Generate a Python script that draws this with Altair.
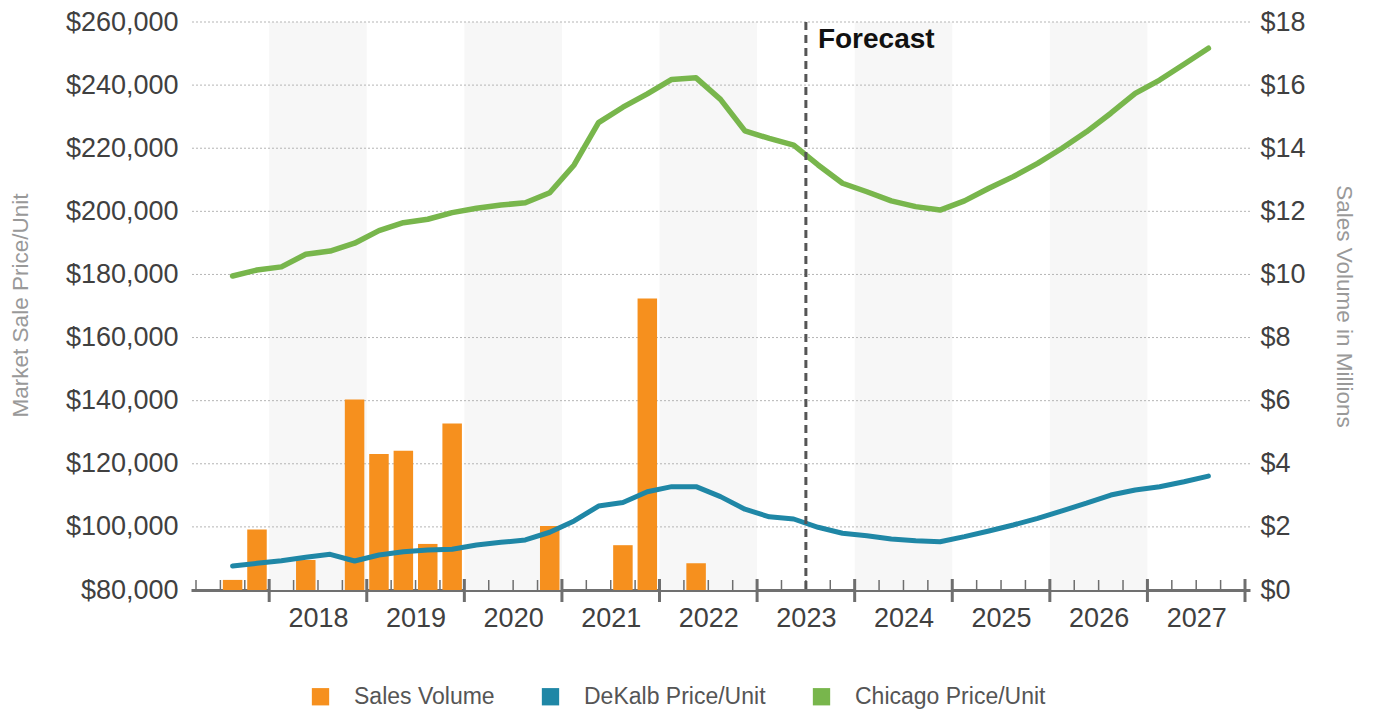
import altair as alt
import pandas as pd

# ---------------- data ----------------
start_year, start_q, n_quarters = 2017, 3, 41   # 2017 Q3 .. 2027 Q3

chicago_price = [179500, 181400, 182400, 186400, 187400, 189900, 193900, 196400,
                 197500, 199600, 201000, 202000, 202700, 205900, 214700, 228100,
                 233000, 237200, 241800, 242300, 235500, 225500, 223100, 221000,
                 214700, 208900, 206200, 203300, 201500, 200400, 203300, 207300,
                 211000, 215200, 220000, 225200, 231100, 237400, 241600, 246600,
                 251700]

dekalb_price = [87600, 88450, 89300, 90350, 91300, 89200, 91100, 92150,
                92700, 92900, 94260, 95100, 95850, 98300, 101900, 106600,
                107700, 111150, 112750, 112750, 109600, 105600, 103200, 102500,
                99870, 98000, 97200, 96160, 95600, 95300, 96900, 98700,
                100600, 102700, 105100, 107500, 110100, 111700, 112700, 114300,
                116100]

sales_volume = [0.32, 1.92, 0.0, 0.95, 0.0, 6.04, 4.31, 4.41,
                1.46, 5.28, 0.0, 0.0, 0.0, 2.03, 0.0, 0.0,
                1.42, 9.24, 0.0, 0.85, 0.0, 0.0, 0.0, 0.0]

band_years = [2018, 2020, 2022, 2024, 2026]
year_labels = list(range(2018, 2028))
major_ticks = list(range(2018, 2029))
minor_ticks = [y + k * 0.25 for y in range(2017, 2028) for k in (1, 2, 3)]
price_ticks = list(range(80000, 260001, 20000))
volume_ticks = list(range(0, 19, 2))
forecast_start = 2023.5

series_names = ["Sales Volume", "DeKalb Price/Unit", "Chicago Price/Unit"]
series_colors = ["#F6901E", "#1F87A6", "#78B64C"]

# quarter mid-points on a fractional-year axis
t_vals = []
for i in range(n_quarters):
    qi = (start_q - 1) + i
    t_vals.append(start_year + qi // 4 + (qi % 4) * 0.25 + 0.125)

df_chi = pd.DataFrame({"t": t_vals, "price": chicago_price})
df_dek = pd.DataFrame({"t": t_vals, "price": dekalb_price})
df_vol = pd.DataFrame({"t": t_vals[:len(sales_volume)], "vol": sales_volume,
                       "series": "Sales Volume"})
df_bands = pd.DataFrame({"t": band_years})
df_grid = pd.DataFrame({"v": price_ticks[1:]})
df_major = pd.DataFrame({"t": major_ticks})
df_minor = pd.DataFrame({"t": minor_ticks})
df_fc = pd.DataFrame({"t": [forecast_start], "label": ["Forecast"]})

FONT = "Liberation Sans"
xscale = alt.Scale(domain=[2017.25, 2028.0], nice=False, zero=False)
price_scale = alt.Scale(domain=[80000, 260000], nice=False, zero=False)
vol_scale = alt.Scale(domain=[0, 18], nice=False)

x_axis = alt.Axis(values=[y + 0.5 for y in year_labels], labelExpr="floor(datum.value)",
                  title=None, grid=False, ticks=False, domain=True,
                  domainColor="#707070", domainWidth=3, labelFontSize=27,
                  labelColor="#404040", labelPadding=15.5, labelFont=FONT,
                  labelFlush=False, labelOverlap=False)

X = alt.X("t:Q", scale=xscale, axis=x_axis, title=None)

bands = alt.Chart(df_bands).transform_calculate(end="datum.t + 1").mark_rect(
    color="#f7f7f7").encode(x=X, x2="end:Q")

grid = alt.Chart(df_grid).mark_rule(color="#b5b5b5", strokeDash=[2, 2], strokeWidth=1).encode(
    y=alt.Y("v:Q", scale=price_scale, axis=None))

bars = alt.Chart(df_vol).transform_filter("datum.vol > 0").mark_bar(size=19.5).encode(
    x=X,
    y=alt.Y("vol:Q", scale=vol_scale,
            axis=alt.Axis(orient="right", values=volume_ticks, format="$.0f",
                          title="Sales Volume in Millions", grid=False, ticks=False,
                          domain=False, labelFontSize=27, labelColor="#404040",
                          labelPadding=10, labelFont=FONT, titleFont=FONT,
                          titleFontSize=22.5, titleColor="#999999", titleFontWeight="normal",
                          titleAngle=90, titleX=93, titleY=284, titleBaseline="middle")),
    color=alt.Color("series:N", scale=alt.Scale(domain=series_names, range=series_colors),
                    legend=alt.Legend(title=None, orient="none", legendX=118, legendY=663,
                                      direction="horizontal", symbolType="square",
                                      symbolSize=300, symbolStrokeWidth=0,
                                      labelFontSize=23, labelColor="#555555",
                                      labelFont=FONT, labelOffset=22, columnPadding=44,
                                      labelLimit=400)))

chicago = alt.Chart(df_chi).mark_line(color=series_colors[2], strokeWidth=5.5,
                                      strokeCap="round", strokeJoin="round").encode(
    x=X,
    y=alt.Y("price:Q", scale=price_scale,
            axis=alt.Axis(orient="left", values=price_ticks, format="$,.0f",
                          title="Market Sale Price/Unit", grid=False, ticks=False,
                          domain=False, labelFontSize=27, labelColor="#404040",
                          labelPadding=13, labelFont=FONT, titleFont=FONT,
                          titleFontSize=22.5, titleColor="#999999", titleFontWeight="normal",
                          titleAngle=270, titleX=-171, titleY=283, titleBaseline="middle")))

dekalb = alt.Chart(df_dek).mark_line(color=series_colors[1], strokeWidth=5,
                                     strokeCap="round", strokeJoin="round").encode(
    x=X,
    y=alt.Y("price:Q", scale=price_scale, axis=None))

major = alt.Chart(df_major).mark_rule(color="#6e6e6e", strokeWidth=3).encode(
    x=X, y=alt.value(557), y2=alt.value(580))
minor = alt.Chart(df_minor).mark_rule(color="#6e6e6e", strokeWidth=1.5).encode(
    x=X, y=alt.value(558), y2=alt.value(568))

fc_line = alt.Chart(df_fc).mark_rule(color="#555555", strokeDash=[8, 5], strokeWidth=3).encode(
    x=X)
fc_text = alt.Chart(df_fc).mark_text(align="left", baseline="alphabetic", dx=12,
                                     fontSize=28, fontWeight="bold", color="#111111",
                                     font=FONT).encode(
    x=X, y=alt.value(26), text="label:N")

chart = alt.layer(bands, grid, bars, dekalb, chicago, minor, major, fc_line, fc_text).resolve_scale(
    y="independent").properties(
    width=1059, height=568,
    autosize=alt.AutoSizeParams(type="none"),
    padding={"left": 183, "top": 14, "right": 115, "bottom": 120},
    background="white").configure_view(stroke=None)

chart.save("out.html", embed_options={"renderer": "svg", "actions": False})
